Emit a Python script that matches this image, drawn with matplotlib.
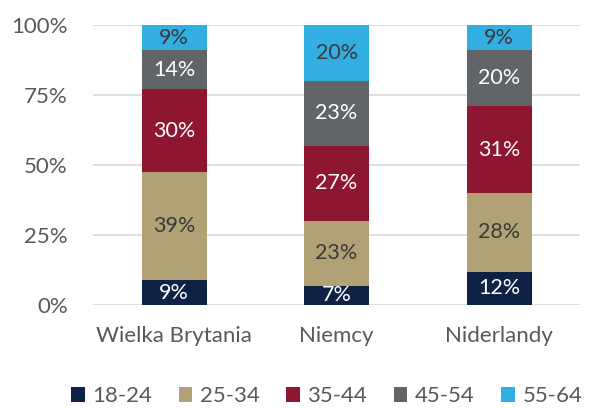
import matplotlib
matplotlib.use("Agg")
import matplotlib.pyplot as plt
from matplotlib.patches import Patch
import numpy as np

plt.rcParams['font.family'] = ['Lato', 'DejaVu Sans']

countries = ["Wielka Brytania", "Niemcy", "Niderlandy"]
age_groups = ["18-24", "25-34", "35-44", "45-54", "55-64"]
# percentages per age group, one value per country
share_18_24 = [9, 7, 12]
share_25_34 = [39, 23, 28]
share_35_44 = [30, 27, 31]
share_45_54 = [14, 23, 20]
share_55_64 = [9, 20, 9]

colors = ["#0E2245", "#B0A275", "#8E1630", "#626567", "#33AEE3"]
label_colors = ["white", "#3a3a3a", "white", "white", "#3a3a3a"]

series = np.array([share_18_24, share_25_34, share_35_44, share_45_54, share_55_64], dtype=float)
# 100% stacked: normalise each column
norm = series / series.sum(axis=0) * 100

fig = plt.figure(figsize=(5.91, 4.08), dpi=100)
ax = fig.add_axes([0.157, 0.252, 0.825, 0.686])

x = np.arange(len(countries))
bottom = np.zeros(len(countries))
for i, grp in enumerate(age_groups):
    ax.bar(x, norm[i], 0.4, bottom=bottom, color=colors[i], zorder=3)
    for xi, h, b, v in zip(x, norm[i], bottom, series[i]):
        ax.text(xi, b + h / 2, f"{int(v)}%", ha='center', va='center',
                fontsize=15.5, color=label_colors[i], zorder=4)
    bottom += norm[i]

ax.set_xlim(-0.5, 2.5)
ax.set_ylim(0, 100)
ax.set_yticks([0, 25, 50, 75, 100])
ax.set_yticklabels([f"{t}%" for t in [0, 25, 50, 75, 100]])
ax.set_xticks(x)
ax.set_xticklabels(countries)
ax.yaxis.grid(True, color="#D9D9D9", linewidth=1.2, zorder=0)
ax.tick_params(axis='both', length=0, labelsize=16, colors="#595959")
ax.tick_params(axis='y', pad=18)
ax.tick_params(axis='x', pad=15)
for s in ax.spines.values():
    s.set_visible(False)

handles = [Patch(facecolor=c, label=g) for c, g in zip(colors, age_groups)]
fig.legend(handles=handles, loc='lower center', bbox_to_anchor=(0.553, -0.045), ncol=5,
           frameon=False, fontsize=16, handlelength=0.6, handleheight=0.6,
           handletextpad=0.35, columnspacing=1.2, labelcolor="#595959")

fig.savefig("out.png", dpi=100)
